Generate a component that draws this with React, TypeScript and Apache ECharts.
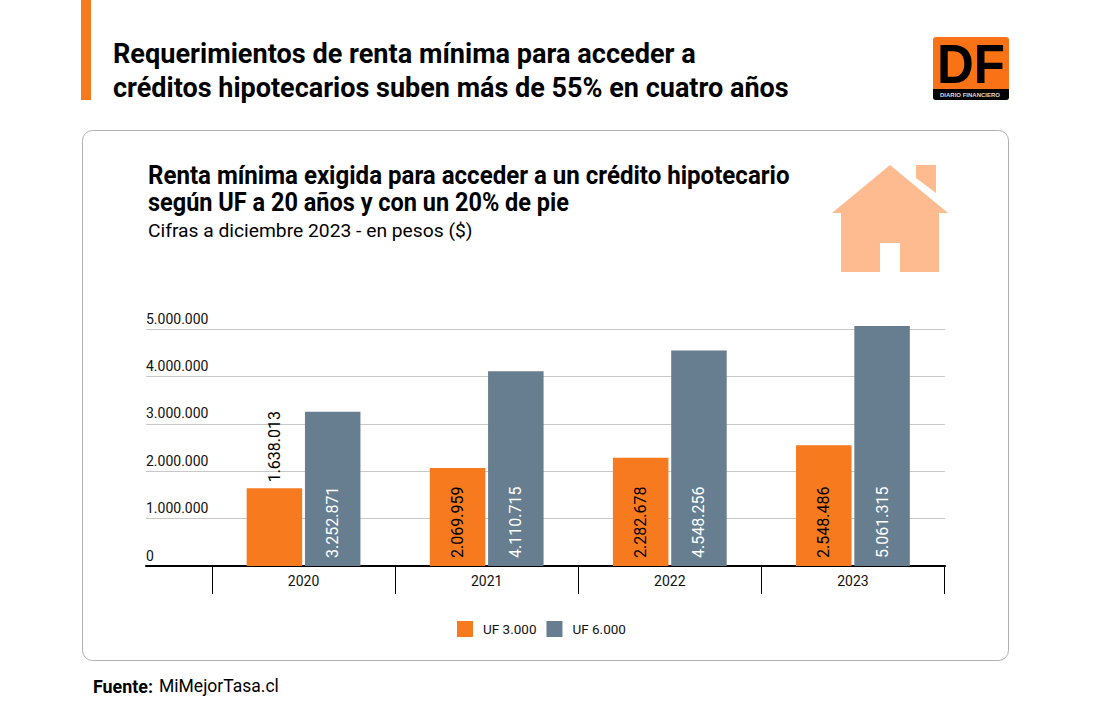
import React, { useEffect, useRef } from "react";
import * as echarts from "echarts";

const categories = ["2020", "2021", "2022", "2023"];
const uf3000 = [1638013, 2069959, 2282678, 2548486];
const uf6000 = [3252871, 4110715, 4548256, 5061315];
const seriesNames = ["UF 3.000", "UF 6.000"];
const titleLines = [
  "Requerimientos de renta mínima para acceder a",
  "créditos hipotecarios suben más de 55% en cuatro años",
];
const subtitleLines = [
  "Renta mínima exigida para acceder a un crédito hipotecario",
  "según UF a 20 años y con un 20% de pie",
];
const noteText = "Cifras a diciembre 2023 - en pesos ($)";
const sourceLabel = "Fuente:";
const sourceText = "MiMejorTasa.cl";

const ORANGE = "#F77A1E";
const SLATE = "#667E90";
const SANS = "Roboto, sans-serif";

const dots = (v: number) => String(v).replace(/\B(?=(\d{3})+(?!\d))/g, ".");

const ctx = document.createElement("canvas").getContext("2d")!;
function fit(text: string, font: string, x: number, y: number, width: number, fill = "#000") {
  ctx.font = font;
  const w = ctx.measureText(text).width;
  return {
    type: "text", x, y, scaleX: width / w, z: 5,
    style: { text, font, fill, verticalAlign: "top" },
  };
}

export default function App() {
  const ref = useRef<HTMLDivElement>(null);
  useEffect(() => {
    const chart = echarts.init(ref.current!, null, { renderer: "svg" });
    const barLabel = (color: string) => ({
      show: true, position: "insideBottom", rotate: 90, align: "left", verticalAlign: "middle",
      distance: 8, color, fontFamily: SANS, fontSize: 16,
      formatter: (p: any) => dots(p.value?.value ?? p.value),
    });
    chart.setOption({
      animation: false,
      backgroundColor: "#fff",
      textStyle: { fontFamily: SANS },
      grid: [
        { left: 146, right: 150, top: 329, bottom: 154, containLabel: false },
        { left: 212, right: 150.5, top: 329, bottom: 154, containLabel: false },
      ],
      legend: {
        left: 457, top: 621, itemWidth: 16, itemHeight: 16, itemGap: 10, padding: 0,
        icon: "rect", data: seriesNames,
        textStyle: { fontFamily: SANS, fontSize: 13.5, color: "#111", padding: [0, 0, 0, 5] },
      },
      xAxis: [
        {
          gridIndex: 0, type: "value", min: 0, max: 1, show: true,
          axisLine: { show: true, onZero: false, lineStyle: { color: "#000", width: 2 } },
          axisTick: { show: false }, axisLabel: { show: false }, splitLine: { show: false },
        },
        {
          gridIndex: 1, type: "category", data: categories,
          axisLine: { show: true, onZero: false, lineStyle: { color: "#000", width: 2 } },
          axisTick: { show: true, alignWithLabel: false, length: 28, lineStyle: { color: "#000", width: 1 } },
          axisLabel: { color: "#111", fontFamily: SANS, fontSize: 14, margin: 8 },
        },
      ],
      yAxis: [
        {
          gridIndex: 0, type: "value", min: 0, max: 5000000, interval: 1000000,
          axisLine: { show: false }, axisTick: { show: false },
          axisLabel: {
            inside: true, margin: 0, verticalAlign: "bottom", align: "left", color: "#111",
            fontFamily: SANS, fontSize: 14, lineHeight: 21,
            formatter: (v: number) => dots(v),
          },
          splitLine: { show: true, lineStyle: { color: "#C8C8C8", width: 1 } },
        },
        {
          gridIndex: 1, type: "value", min: 0, max: 5000000, interval: 1000000, show: false,
          splitLine: { show: false },
        },
      ],
      series: [
        {
          name: seriesNames[0], type: "bar", xAxisIndex: 1, yAxisIndex: 1, clip: false,
          barWidth: 55.5, barGap: "5%", itemStyle: { color: ORANGE }, label: barLabel("#000"),
          data: uf3000.map((value, i) =>
            i === 0
              ? { value, label: { position: "top", distance: 6 } }
              : { value }),
        },
        {
          name: seriesNames[1], type: "bar", xAxisIndex: 1, yAxisIndex: 1, clip: false,
          barWidth: 55.5, itemStyle: { color: SLATE }, label: barLabel("#fff"),
          data: uf6000,
        },
      ],
      graphic: [
        { type: "rect", z: -1, shape: { x: 82.5, y: 130.5, width: 926, height: 530, r: 10 }, style: { fill: "#fff", stroke: "#B0B0B0", lineWidth: 1 } },
        { type: "rect", shape: { x: 81, y: 0, width: 10, height: 100 }, style: { fill: ORANGE } },
        fit(titleLines[0], `700 28px ${SANS}`, 113, 39, 583),
        fit(titleLines[1], `700 28px ${SANS}`, 113, 73.5, 676),
        fit(subtitleLines[0], `700 25px ${SANS}`, 148, 163, 642),
        fit(subtitleLines[1], `700 25px ${SANS}`, 148, 190, 421),
        fit(noteText, `400 18px ${SANS}`, 148, 222.5, 325),
        fit(sourceLabel, `700 18px ${SANS}`, 93, 677, 60),
        fit(sourceText, `400 18px ${SANS}`, 159, 677, 120),
        { type: "polygon", shape: { points: [[890, 165], [948, 213], [939, 213], [939, 272], [900, 272], [900, 243], [880, 243], [880, 272], [841, 272], [841, 213], [832, 213]] }, style: { fill: "#FDBB8F" } },
        { type: "polygon", shape: { points: [[916, 165], [936, 165], [936, 193], [916, 178]] }, style: { fill: "#FDBB8F" } },
        { type: "rect", shape: { x: 933, y: 37, width: 76, height: 63, r: 3 }, style: { fill: "#F97316" } },
        { type: "rect", shape: { x: 933, y: 89, width: 76, height: 11, r: [0, 0, 3, 3] }, style: { fill: "#000" } },
        fit("DF", `700 55px "Liberation Sans", sans-serif`, 937, 36, 68),
        fit("DIARIO FINANCIERO", `700 6px "Liberation Sans", sans-serif`, 940, 91.5, 60, "#ddd"),
      ],
    });
    return () => chart.dispose();
  }, []);
  return <div ref={ref} style={{ position: "fixed", left: 0, top: 0, width: 1095, height: 720 }} />;
}
